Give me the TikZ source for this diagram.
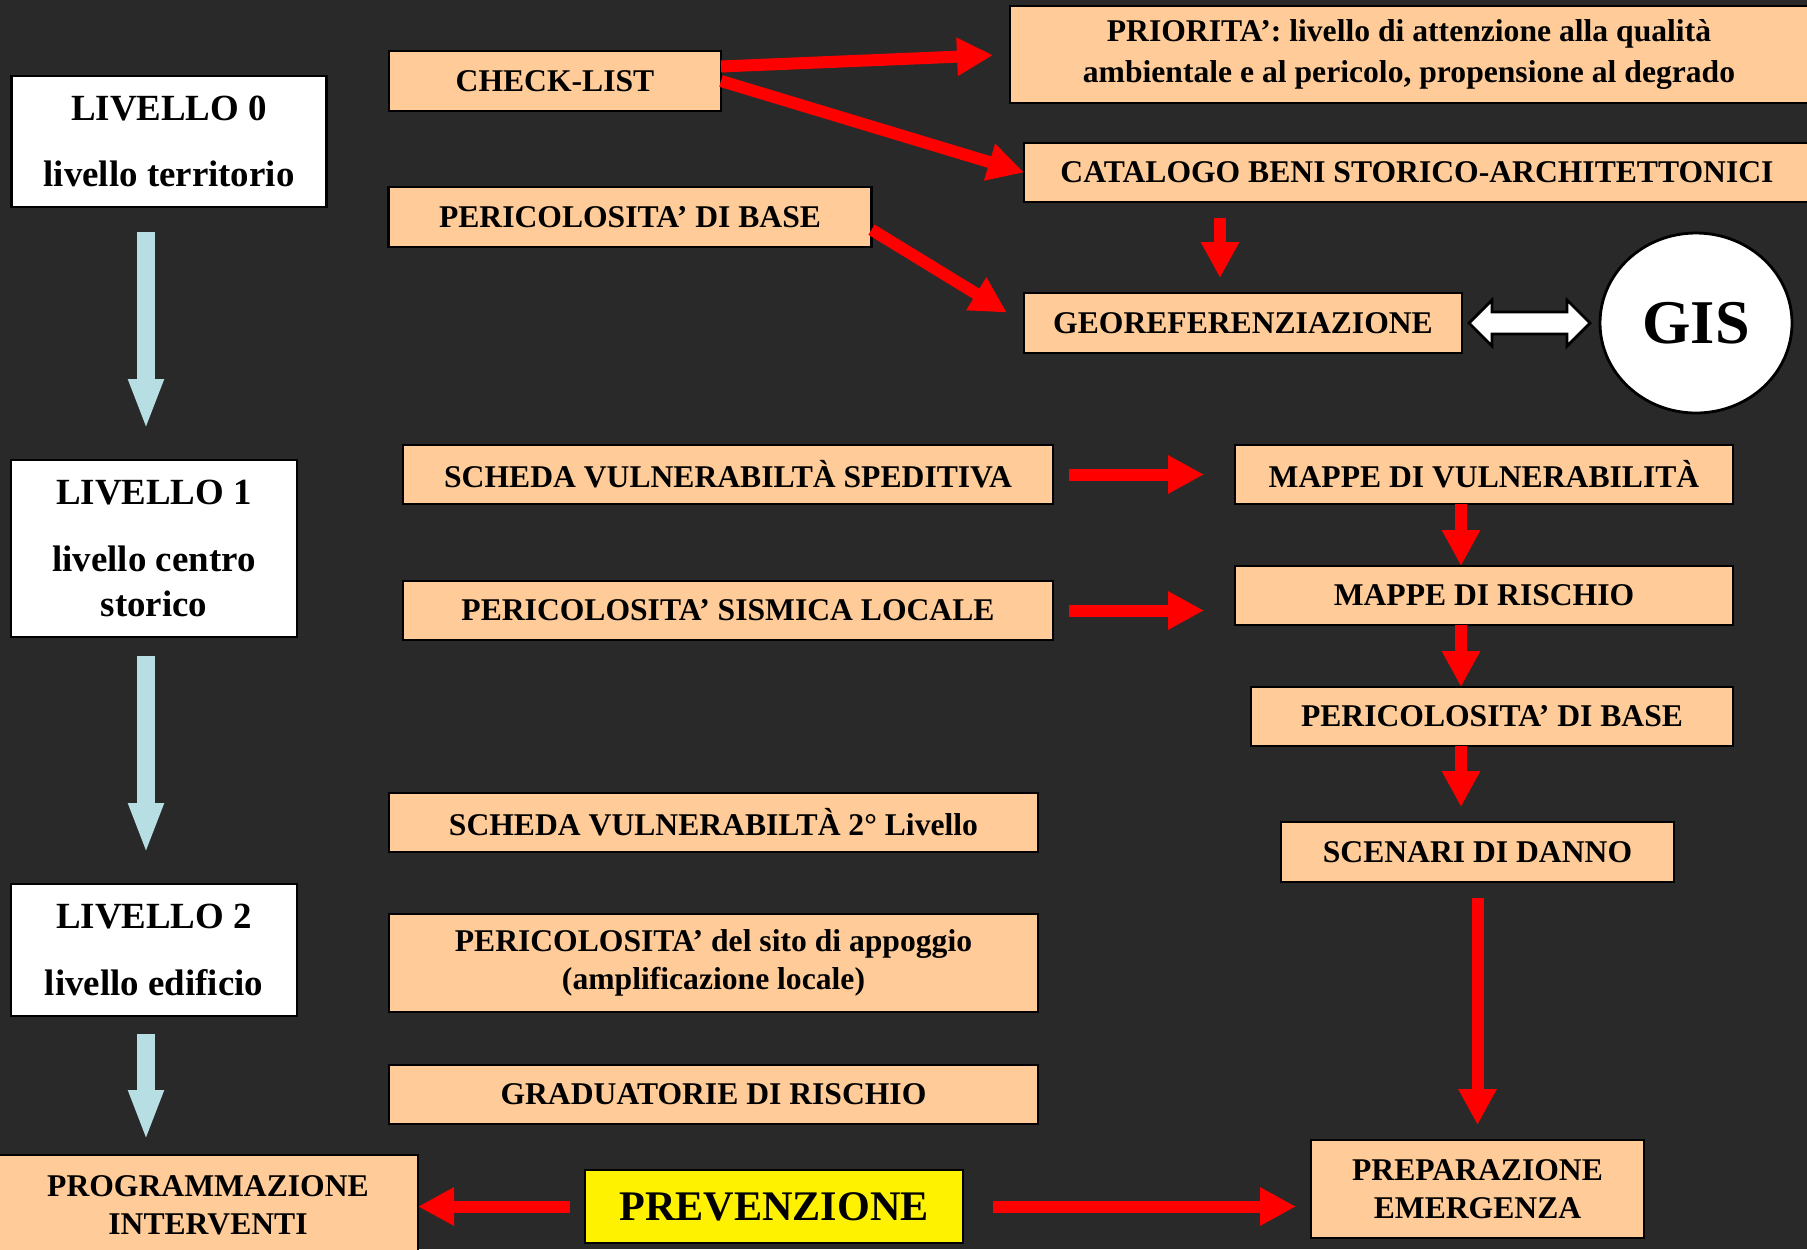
\documentclass[tikz,border=0pt]{standalone}
\usepackage{fontspec}
\setmainfont{Liberation Serif}
\usepackage{tikz,tkz-graph}
\usetikzlibrary{arrows.meta, shapes.geometric, calc}
\definecolor{darkBg}{HTML}{292929}
\definecolor{peach}{HTML}{FFCC99}
\definecolor{arrowRed}{HTML}{FF0000}
\definecolor{paleBlue}{HTML}{B7DFE3}
\tikzstyle{peachBox}=[shape = rectangle, draw, fill = peach, line width = 0.8pt, inner sep = 0pt, align = center, font = \fontsize{9}{10.8}\selectfont\bfseries]
\tikzstyle{levelBox}=[shape = rectangle, draw, fill = white, line width = 0.8pt, inner sep = 0pt, align = center, font = \fontsize{10.5}{12.7}\selectfont\bfseries]

\begin{document}
\begin{tikzpicture}
\tikzstyle{VertexStyle} = []
\tikzstyle{EdgeStyle} = []
\tikzstyle{redArrow}=[draw = arrowRed, line width = 0.12cm, -{Triangle[length = 0.36cm, width = 0.36cm]}]
\tikzstyle{blueArrow}=[draw = paleBlue, line width = 0.18cm, -{Triangle[length = 0.51cm, width = 0.32cm]}]
\tikzstyle{gisStyle}=[shape = ellipse, draw, fill = white, line width = 0.8pt, minimum width = 1.92cm, minimum height = 1.80cm, inner sep = 0pt, font = \fontsize{17.7}{20}\selectfont\bfseries]
\tikzstyle{gisLink}=[draw, fill = white, line width = 0.8pt, line join = miter]
\useasboundingbox (0,0) rectangle (18.07,-12.49);
\fill[darkBg] (0,0) rectangle (18.07,-12.49);
% levels
\Vertex[style = {levelBox, minimum width = 3.15cm, minimum height = 1.31cm}, x = 1.690, y = -1.415, L = {LIVELLO 0\\[6.3pt]livello territorio}]{lv0}
\Vertex[style = {levelBox, minimum width = 2.86cm, minimum height = 1.77cm}, x = 1.540, y = -5.485, L = {LIVELLO 1\\[6.5pt]livello centro\\storico}]{lv1}
\Vertex[style = {levelBox, minimum width = 2.86cm, minimum height = 1.32cm}, x = 1.540, y = -9.500, L = {LIVELLO 2\\[6.3pt]livello edificio}]{lv2}
% level 0
\Vertex[style = {peachBox, minimum width = 3.32cm, minimum height = 0.60cm}, x = 5.550, y = -0.810, L = {CHECK-LIST}]{check}
\Vertex[style = {peachBox, minimum width = 7.98cm, minimum height = 0.97cm, font = \fontsize{9}{11.4}\selectfont\bfseries}, x = 14.090, y = -0.545, L = {PRIORITA’: livello di attenzione alla qualità\\ambientale e al pericolo, propensione al degrado}]{prio}
\Vertex[style = {peachBox, minimum width = 7.86cm, minimum height = 0.59cm}, x = 14.170, y = -1.725, L = {CATALOGO BENI STORICO-ARCHITETTONICI}]{cat}
\Vertex[style = {peachBox, minimum width = 4.83cm, minimum height = 0.60cm}, x = 6.300, y = -2.170, L = {PERICOLOSITA’ DI BASE}]{pbaseA}
\Vertex[style = {peachBox, minimum width = 4.38cm, minimum height = 0.60cm}, x = 12.430, y = -3.230, L = {GEOREFERENZIAZIONE}]{geo}
\Vertex[style = gisStyle, x = 16.960, y = -3.230, L = {GIS}]{gis}
% level 1
\Vertex[style = {peachBox, minimum width = 6.50cm, minimum height = 0.59cm}, x = 7.280, y = -4.745, L = {SCHEDA VULNERABILTÀ SPEDITIVA}]{sped}
\Vertex[style = {peachBox, minimum width = 6.50cm, minimum height = 0.59cm}, x = 7.280, y = -6.105, L = {PERICOLOSITA’ SISMICA LOCALE}]{sism}
\Vertex[style = {peachBox, minimum width = 4.98cm, minimum height = 0.59cm}, x = 14.840, y = -4.745, L = {MAPPE DI VULNERABILITÀ}]{mvul}
\Vertex[style = {peachBox, minimum width = 4.98cm, minimum height = 0.59cm}, x = 14.840, y = -5.955, L = {MAPPE DI RISCHIO}]{mris}
\Vertex[style = {peachBox, minimum width = 4.82cm, minimum height = 0.59cm}, x = 14.920, y = -7.165, L = {PERICOLOSITA’ DI BASE}]{pbaseB}
\Vertex[style = {peachBox, minimum width = 3.93cm, minimum height = 0.60cm}, x = 14.775, y = -8.520, L = {SCENARI DI DANNO}]{scen}
% level 2
\Vertex[style = {peachBox, minimum width = 6.49cm, minimum height = 0.59cm}, x = 7.135, y = -8.225, L = {SCHEDA VULNERABILTÀ 2° Livello}]{sch2}
\Vertex[style = {peachBox, minimum width = 6.49cm, minimum height = 0.98cm}, x = 7.135, y = -9.630, L = {PERICOLOSITA’ del sito di appoggio\\(amplificazione locale)}]{psito}
\Vertex[style = {peachBox, minimum width = 6.49cm, minimum height = 0.59cm}, x = 7.135, y = -10.945, L = {GRADUATORIE DI RISCHIO}]{grad}
% bottom row
\Vertex[style = {peachBox, minimum width = 4.20cm, minimum height = 1.01cm}, x = 2.080, y = -12.055, L = {PROGRAMMAZIONE\\INTERVENTI}]{prog}
\Vertex[style = {peachBox, fill = yellow, minimum width = 3.78cm, minimum height = 0.73cm, font = \fontsize{12}{14}\selectfont\bfseries}, x = 7.740, y = -12.065, L = {PREVENZIONE}]{prev}
\Vertex[style = {peachBox, minimum width = 3.33cm, minimum height = 0.98cm}, x = 14.775, y = -11.890, L = {PREPARAZIONE\\EMERGENZA}]{prep}
\coordinate (blueSpine) at (1.460,0);
\coordinate (redSpine) at (14.610,0);
\coordinate (catDrop) at (12.200,0);
% links
\draw[gisLink] ([xshift=0.07cm]geo.east) -- ++(0.23,0.23) -- ++(0,-0.12) -- ++(0.75,0) -- ++(0,0.12)
  -- ++(0.23,-0.23) -- ++(-0.23,-0.23) -- ++(0,0.12) -- ++(-0.75,0) -- ++(0,-0.12) -- cycle;
\draw[blueArrow, shorten <=0.25cm, shorten >=0.30cm] (blueSpine |- lv0.south) -- (blueSpine |- lv1.north);
\draw[blueArrow, shorten <=0.19cm, shorten >=0.30cm] (blueSpine |- lv1.south) -- (blueSpine |- lv2.north);
\draw[blueArrow, shorten <=0.18cm, shorten >=0.14cm] (blueSpine |- lv2.south) -- (blueSpine |- prog.north);
\draw[redArrow, shorten >=0.17cm] (check.5) -- (prio.west);
\draw[redArrow] (check.east) -- (cat.west);
\draw[redArrow, shorten >=0.20cm] (pbaseA.-3) -- (geo.west);
\draw[redArrow, shorten <=0.16cm, shorten >=0.15cm] (catDrop |- cat.south) -- (catDrop |- geo.north);
\draw[redArrow, shorten <=0.16cm, shorten >=0.31cm] (sped.east) -- (mvul.west);
\draw[redArrow, shorten <=0.16cm, shorten >=0.31cm] (sism.east) -- (sism.east -| mris.west);
\draw[redArrow] (redSpine |- mvul.south) -- (redSpine |- mris.north);
\draw[redArrow] (redSpine |- mris.south) -- (redSpine |- pbaseB.north);
\draw[redArrow, shorten >=0.15cm] (redSpine |- pbaseB.south) -- (redSpine |- scen.north);
\draw[redArrow, shorten <=0.16cm, shorten >=0.15cm] (scen.south) -- (prep.north);
\draw[redArrow, shorten <=0.30cm, shorten >=0.15cm] (prev.east) -- (prev.east -| prep.west);
\draw[redArrow, shorten <=0.15cm] (prev.west) -- (prev.west -| prog.east);
\end{tikzpicture}
\end{document}
